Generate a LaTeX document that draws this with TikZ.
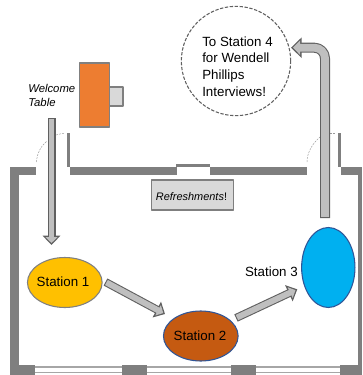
\documentclass[tikz,border=0pt]{standalone}
\usepackage{fontspec}
\setmainfont{Liberation Sans}
\usetikzlibrary{arrows.meta,shapes.geometric}
\tikzset{
	wall/.style={fill=wallgray,draw=none},
	doorswing/.style={draw=gray!80,line width=0.35pt,dash pattern=on 1.5pt off 0.8pt},
	windowline/.style={draw=gray!70,line width=0.9pt},
	station/.style={ellipse,draw=#1,line width=0.8pt,inner sep=0pt},
	blockarrow/.style={
		preaction={draw=edgegray,line width=6pt,shorten >=0pt,shorten <=0pt,-{Triangle[length=7pt,width=13pt]}},
		draw=fillgray,line width=4.4pt,shorten >=1.5pt,shorten <=0.8pt,-{Triangle[length=4.4pt,width=8.6pt]}},
	wideblockarrow/.style={
		preaction={draw=edgegray,line width=7.5pt,shorten >=0pt,shorten <=0pt,-{Triangle[length=8pt,width=15pt]}},
		draw=fillgray,line width=5.9pt,shorten >=1.5pt,shorten <=0.8pt,-{Triangle[length=5.4pt,width=10.6pt]}},
	stationtext/.style={font=\fontsize{10}{12.5}\selectfont,inner sep=0pt},
	note/.style={font=\fontsize{8.5}{10.5}\selectfont\itshape,inner sep=0pt}
}
\definecolor{wallgray}{HTML}{7F7F7F}
\definecolor{edgegray}{HTML}{606060}
\definecolor{fillgray}{HTML}{BFBFBF}
\definecolor{lightbox}{HTML}{D9D9D9}
\definecolor{tableorange}{HTML}{ED7D31}
\definecolor{stationone}{HTML}{FFC000}
\definecolor{stationtwo}{HTML}{C55A11}
\definecolor{stationthree}{HTML}{00B0F0}
\definecolor{stationedge}{HTML}{2F5597}
\begin{document}
\begin{tikzpicture}[x=0.75pt,y=-0.75pt,line join=round]
	\useasboundingbox (0,0) rectangle (362,375);
	% walls
	\fill[wall] (10,167) rectangle (36,175);
	\fill[wall] (70,167) rectangle (177,175);
	\fill[wall] (210,167) rectangle (307,175);
	\fill[wall] (341,167) rectangle (362,175);
	\fill[wall] (176,164) rectangle (210,167);
	\fill[wall] (67,133) rectangle (70,167);
	\fill[wall] (338,133) rectangle (341,167);
	\fill[wall] (10,167) rectangle (19,375);
	\fill[wall] (358,167) rectangle (362,375);
	% bottom windows
	\draw[windowline] (35,367) -- (340,367);
	\draw[windowline] (35,372.5) -- (340,372.5);
	\foreach \xa/\xb in {10/35,122/147,231/256,340/362}
		\fill[wall] (\xa,365) rectangle (\xb,375);
	% doors
	\draw[doorswing] (36.5,162) .. controls (37,153) and (41,146) .. (47,141);
	\draw[doorswing] (56,135) .. controls (59,134) and (62,133.5) .. (65,133.5);
	\draw[doorswing] (307,162) .. controls (307,152) and (313,143) .. (320,137);
	\draw[doorswing] (330,133.5) -- (336,133.5);
	% table
	\node[draw=wallgray,fill=lightbox,line width=0.9pt,minimum width=10.5pt,minimum height=14.25pt,inner sep=0pt] (chair) at (116,96.5) {};
	\node[draw=gray,fill=tableorange,line width=0.9pt,minimum width=22pt,minimum height=48pt,inner sep=0pt] (table) at (94.5,95) {};
	\node[note,align=left,anchor=north west] (welcome) at (28,84.5) {Welcome\\Table};
	\node[draw=wallgray,fill=lightbox,line width=0.9pt,minimum width=62pt,minimum height=22.5pt,inner sep=0pt] (refresh) at (192.5,195) {};
	\node[font=\fontsize{8.2}{10}\selectfont,inner sep=0pt] (refreshtext) at (191.5,196.5) {\textit{Refreshments}!};
	% stations
	\node[station=gray,fill=stationone,minimum width=56pt,minimum height=37.5pt] (st1) at (64.8,282.5) {};
	\node[stationtext] (st1label) at (63,282) {Station 1};
	\node[station=stationedge,fill=stationtwo,minimum width=56pt,minimum height=37.5pt] (st2) at (200.8,336) {};
	\node[stationtext] (st2label) at (200,336) {Station 2};
	\node[station=stationedge,fill=stationthree,minimum width=40pt,minimum height=60pt] (st3) at (328.3,267.5) {};
	\node[stationtext,anchor=east] (st3label) at (298,272) {Station 3};
	\node[draw=edgegray,line width=0.8pt,dash pattern=on 2.5pt off 1.2pt,circle,minimum size=82pt,inner sep=0pt] (st4) at (236,61) {};
	\node[stationtext,align=left,anchor=west] (st4label) at (202,66.5) {To Station 4\\for Wendell\\Phillips\\Interviews!};
	% arrows
	\coordinate (a1) at (51.5,118);
	\coordinate (a2) at (51.5,245);
	\coordinate (b1) at (105.5,282);
	\coordinate (b2) at (165,314);
	\coordinate (c1) at (236,318);
	\coordinate (c2) at (297.3,289.3);
	\coordinate (d1) at (325,218);
	\coordinate (d2) at (291,47.7);
	\coordinate (d3) at (325,47.7);
	\draw[wideblockarrow,rounded corners=8pt] (d1) -- (d3) -- (d2);
	\draw[blockarrow] (a1) -- (a2);
	\draw[blockarrow] (b1) -- (b2);
	\draw[blockarrow] (c1) -- (c2);
\end{tikzpicture}
\end{document}
